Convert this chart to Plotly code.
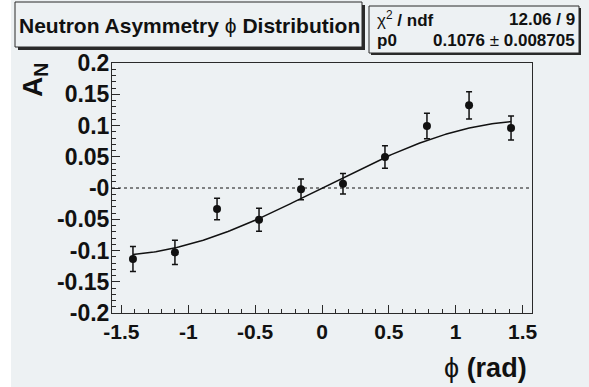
import numpy as np
import plotly.graph_objects as go

# ---- data ----
phi = [-1.414, -1.100, -0.785, -0.471, -0.157, 0.157, 0.471, 0.785, 1.100, 1.414]
asym = [-0.1136, -0.1030, -0.0336, -0.0507, -0.0021, 0.0069, 0.0496, 0.0992, 0.1323, 0.0960]
asym_err = [0.0200, 0.0195, 0.0173, 0.0184, 0.0165, 0.0165, 0.0179, 0.0205, 0.0219, 0.0192]

# fit result shown in the stats box: A_N = p0 * sin(phi)
p0 = 0.1076
p0_err = 0.008705
chi2_text = "12.06 / 9"

x_tickvals = [-1.5, -1, -0.5, 0, 0.5, 1, 1.5]
x_ticktext = ["-1.5", "-1", "-0.5", "0", "0.5", "1", "1.5"]
y_tickvals = [-0.2, -0.15, -0.1, -0.05, 0, 0.05, 0.1, 0.15, 0.2]
y_ticktext = ["-0.2", "-0.15", "-0.1", "-0.05", "-0", "0.05", "0.1", "0.15", "0.2"]
x_range = [-np.pi / 2, np.pi / 2]
y_range = [-0.2, 0.2]

BG = "#edf1f3"
INK = "#111111"
FRAME = "#2a2a2a"
FONT = "Liberation Sans"

W, H = 589, 387
ML, MR, MT, MB = 112, 57, 63, 74
PW, PH = W - ML - MR, H - MT - MB


def px(x):
    return (x - ML) / PW


def py(y):
    return (H - MB - y) / PH


fit_x = np.linspace(phi[0], phi[-1], 200)
fit_y = p0 * np.sin(fit_x)

fig = go.Figure()
fig.add_trace(go.Scatter(x=fit_x, y=fit_y, mode="lines",
                         line=dict(color=INK, width=1.5), hoverinfo="skip", showlegend=False))
fig.add_trace(go.Scatter(x=phi, y=asym, mode="markers",
                         marker=dict(color=INK, size=8),
                         error_y=dict(type="data", array=asym_err, color=INK, thickness=1.5, width=3),
                         showlegend=False))

shapes = []
# white strip at the left edge of the canvas
shapes.append(dict(type="rect", xref="paper", yref="paper", x0=px(0), x1=px(11), y0=py(H), y1=py(0),
                   fillcolor="white", line=dict(width=0), layer="below"))
# dotted zero line
shapes.append(dict(type="line", xref="paper", yref="y", x0=0, x1=1, y0=0, y1=0,
                   line=dict(color=INK, width=1, dash="dot")))


def box(x0, y0, x1, y1, sh=3):
    shapes.append(dict(type="rect", xref="paper", yref="paper",
                       x0=px(x0 + sh), x1=px(x1 + sh), y0=py(y1 + sh), y1=py(y0 + sh),
                       fillcolor=FRAME, line=dict(width=0)))
    shapes.append(dict(type="rect", xref="paper", yref="paper",
                       x0=px(x0), x1=px(x1), y0=py(y1), y1=py(y0),
                       fillcolor=BG, line=dict(color=FRAME, width=1)))


box(15, 2, 362, 47)
box(369, 6, 579, 53, sh=2)

ann = []
ann.append(dict(x=px(189), y=py(25), xref="paper", yref="paper", showarrow=False,
                xanchor="center", yanchor="middle",
                text="<b>Neutron Asymmetry</b> ϕ <b>Distribution</b>",
                font=dict(family=FONT, size=21, color=INK)))
stat_font = dict(family=FONT, size=17, color=INK)
ann.append(dict(x=px(375), y=py(19), xref="paper", yref="paper", showarrow=False,
                xanchor="left", yanchor="middle", text="χ<sup>2</sup> <b>/ ndf</b>", font=stat_font))
ann.append(dict(x=px(577), y=py(19), xref="paper", yref="paper", showarrow=False,
                xanchor="right", yanchor="middle", text="<b>" + chi2_text + "</b>", font=stat_font))
ann.append(dict(x=px(375), y=py(41), xref="paper", yref="paper", showarrow=False,
                xanchor="left", yanchor="middle", text="<b>p0</b>", font=stat_font))
ann.append(dict(x=px(577), y=py(41), xref="paper", yref="paper", showarrow=False,
                xanchor="right", yanchor="middle",
                text="<b>%.4f</b> ± <b>%.6f</b>" % (p0, p0_err), font=stat_font))
# axis titles
ann.append(dict(x=px(35), y=py(80), xref="paper", yref="paper", showarrow=False,
                xanchor="center", yanchor="middle", textangle=-90,
                text="<b>A<sub>N</sub></b>", font=dict(family=FONT, size=28, color=INK)))
ann.append(dict(x=px(529), y=py(368), xref="paper", yref="paper", showarrow=False,
                xanchor="right", yanchor="middle",
                text="ϕ <b>(rad)</b>", font=dict(family=FONT, size=27, color=INK)))

axis_common = dict(showgrid=False, zeroline=False, showline=True, linecolor=FRAME, linewidth=1,
                   mirror=True, ticks="inside", ticklen=8, tickwidth=1, tickcolor=FRAME)

fig.update_layout(
    width=W, height=H,
    margin=dict(l=ML, r=MR, t=MT, b=MB, pad=0),
    paper_bgcolor=BG, plot_bgcolor=BG,
    showlegend=False,
    shapes=shapes,
    annotations=ann,
    xaxis=dict(range=x_range, tickmode="array", tickvals=x_tickvals, ticktext=x_ticktext,
               tickfont=dict(family=FONT, size=21, color=INK, weight="bold"),
               minor=dict(ticks="inside", ticklen=4, tickcolor=FRAME, tick0=0, dtick=0.1),
               **axis_common),
    yaxis=dict(range=y_range, tickmode="array", tickvals=y_tickvals, ticktext=y_ticktext,
               tickfont=dict(family=FONT, size=23, color=INK, weight="bold"),
               ticklabelstandoff=-3,
               minor=dict(ticks="inside", ticklen=4, tickcolor=FRAME, tick0=0, dtick=0.01),
               **axis_common),
)

fig.write_html("out.html", config={"displayModeBar": False},
               post_script="document.body.style.margin='0';document.body.style.overflow='hidden';")
